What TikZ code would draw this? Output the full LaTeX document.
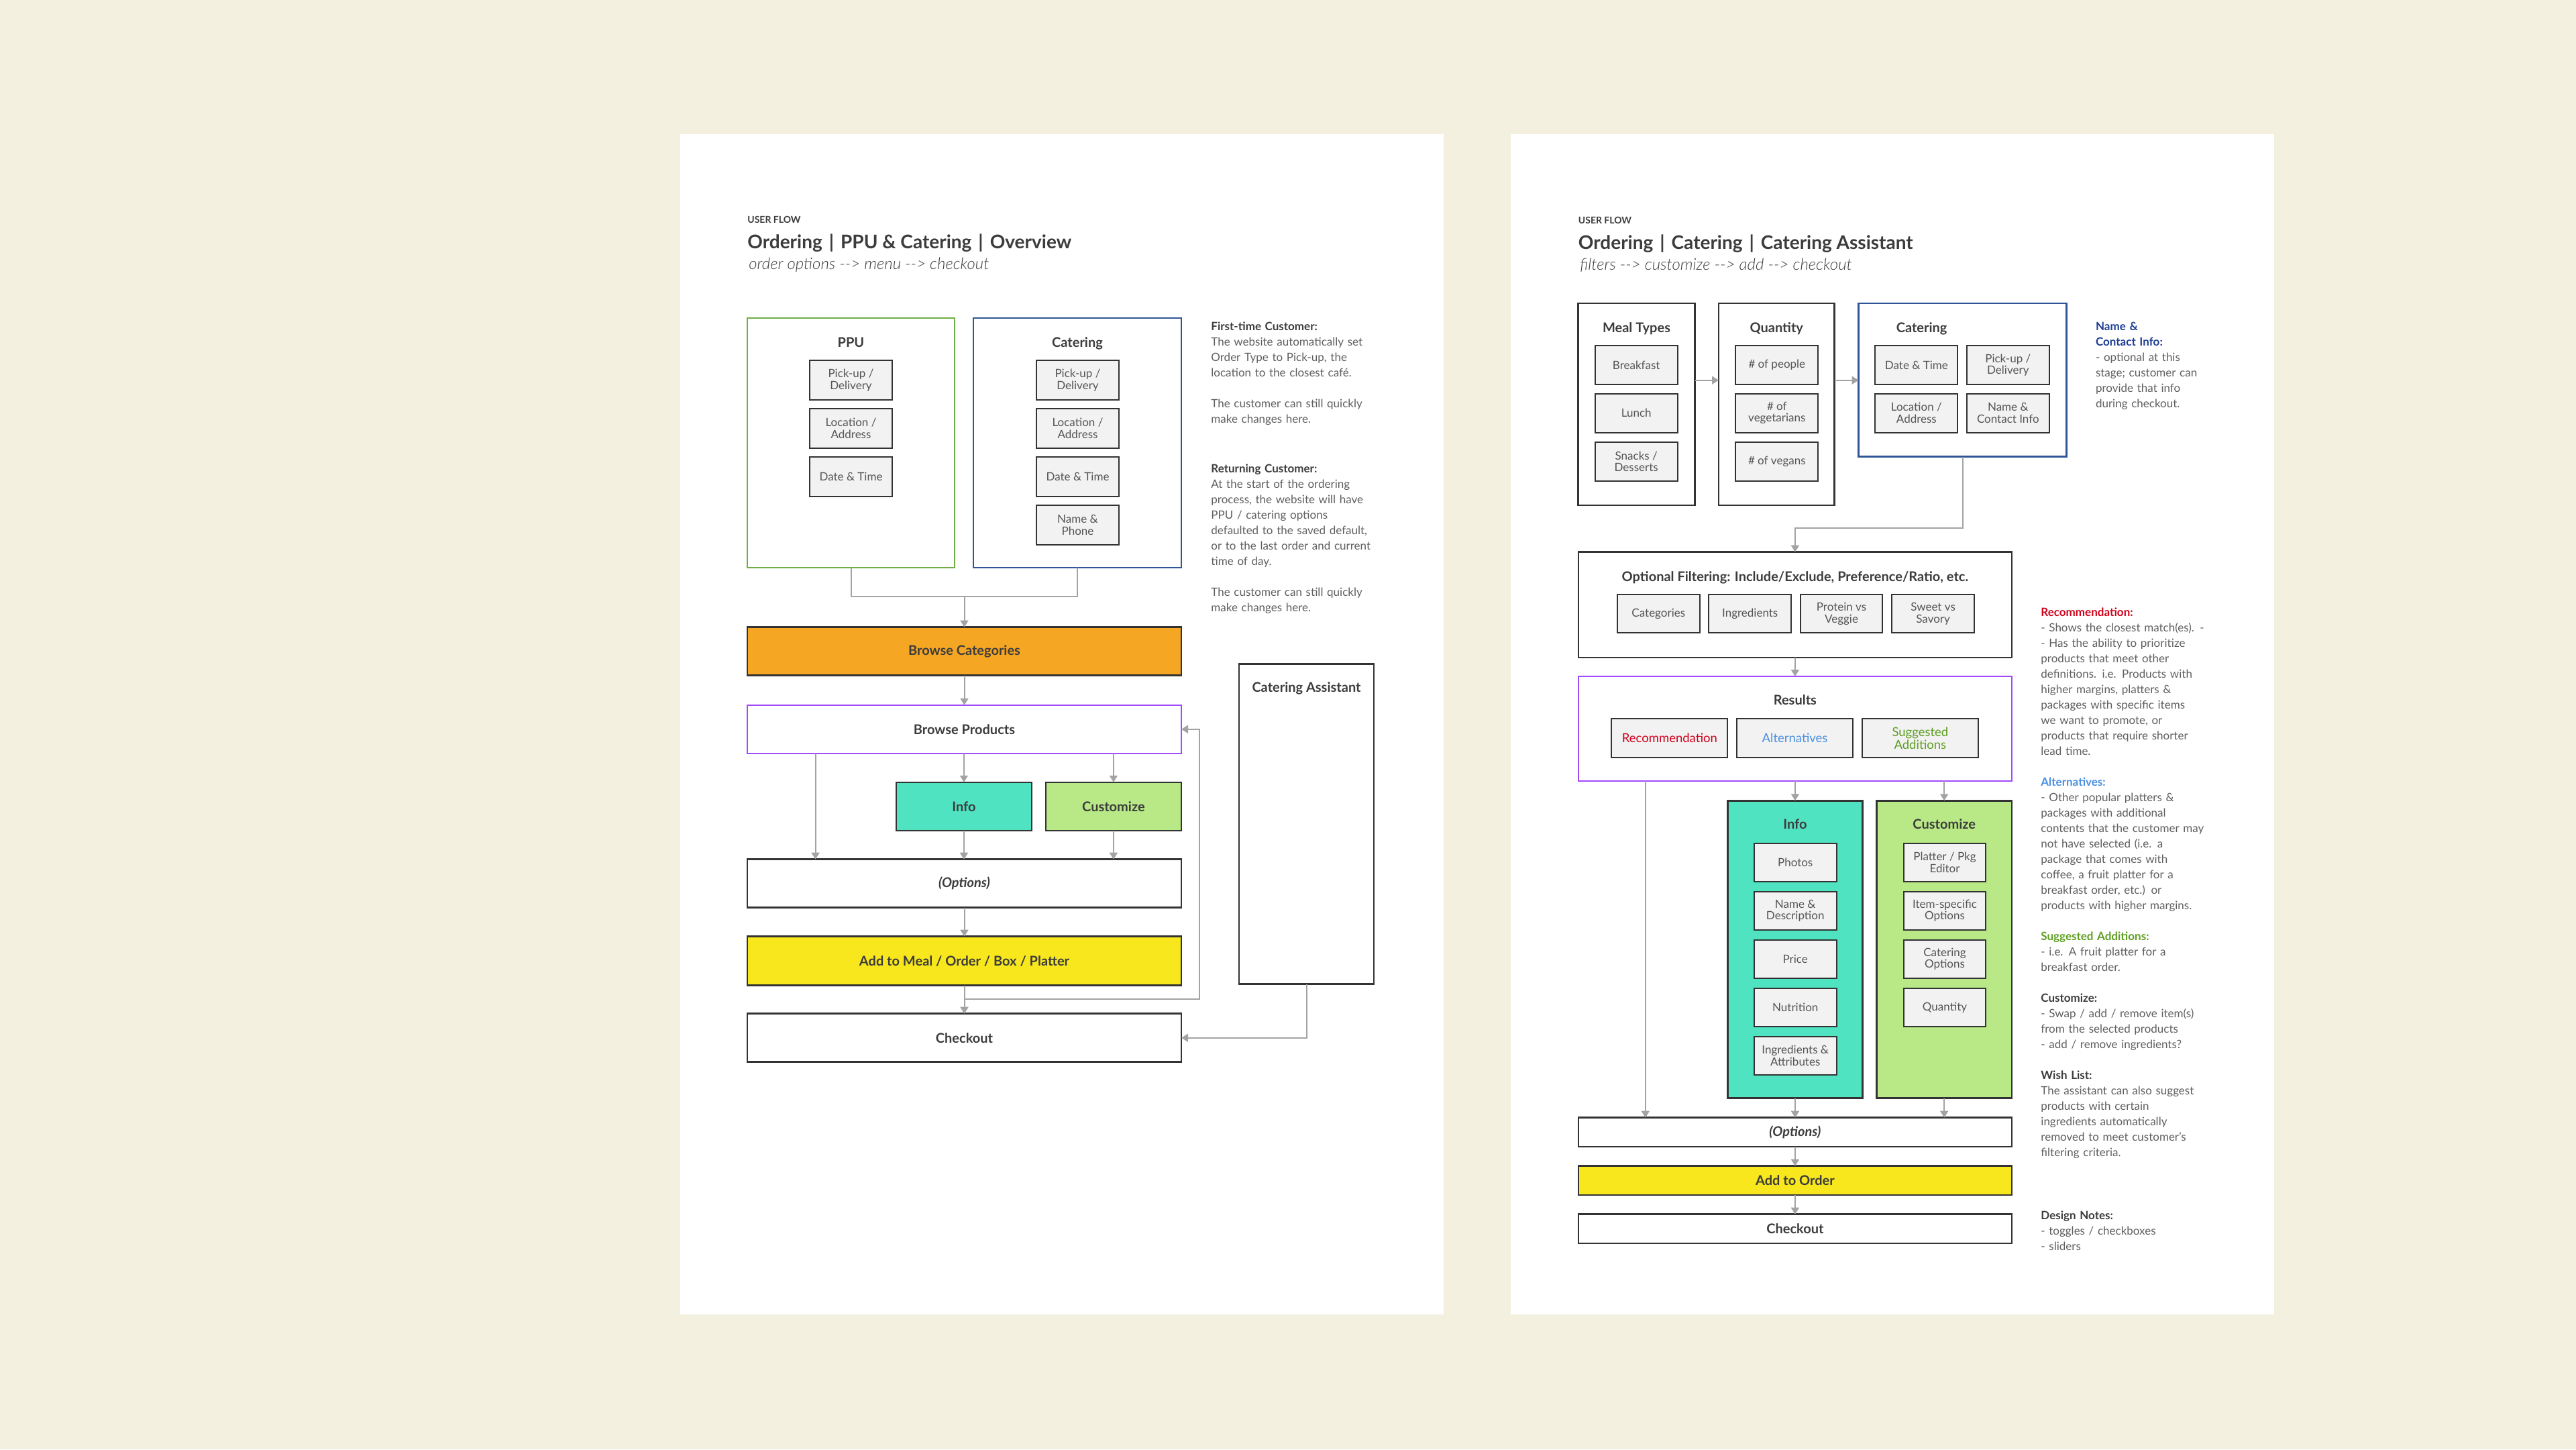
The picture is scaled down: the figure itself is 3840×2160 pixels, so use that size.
\documentclass[tikz,border=0pt]{standalone}
\usepackage{fontspec}
\setmainfont{Lato}
\newfontfamily\lightfont{Lato Light}
\usetikzlibrary{arrows.meta}
\definecolor{cBg}{HTML}{F3F0DF}
\definecolor{cBox}{HTML}{333333}
\definecolor{cLine}{HTML}{A3A3A3}
\definecolor{cInner}{HTML}{F2F2F2}
\definecolor{cOrange}{HTML}{F5A623}
\definecolor{cTeal}{HTML}{50E3C2}
\definecolor{cLime}{HTML}{B8E986}
\definecolor{cYellow}{HTML}{F8E71C}
\definecolor{cPurple}{HTML}{A24BFA}
\definecolor{cGreen}{HTML}{70AD47}
\definecolor{cBlue}{HTML}{2F5597}
\definecolor{cRed}{HTML}{D0021B}
\definecolor{cAlt}{HTML}{4A90E2}
\definecolor{cSug}{HTML}{5E9E22}
\definecolor{cNavy}{HTML}{1F3F95}
\definecolor{cTxt}{HTML}{3C3C3C}
\definecolor{cGrey}{HTML}{555555}
\definecolor{cNote}{HTML}{5F5F5F}
\newcommand\hd{\normalfont\bfseries\fontsize{8.5pt}{11.5pt}\selectfont}
\newcommand\tsep{\hspace{5pt}|\hspace{5pt}}
\begin{document}
\begin{tikzpicture}[x=0.5pt,y=-0.5pt,
  wh/.style 2 args={minimum width=#1*0.5pt, minimum height=#2*0.5pt},
  conn/.style={draw=cLine, line width=1pt},
  arr/.style={conn, -{Triangle[width=6pt,length=5pt]}},
  gbox/.style={draw, line width=1.25pt, fill=white, inner sep=0pt, outer sep=0pt},
  ibox/.style={draw=cBox, line width=1pt, fill=cInner, inner sep=0pt, outer sep=0pt, align=center, text=cGrey, font=\fontsize{8.5pt}{8.75pt}\selectfont, wh={123}{58}},
  rbox/.style={ibox, font=\fontsize{9.25pt}{9.5pt}\selectfont},
  mbox/.style={draw=cBox, line width=1.25pt, fill=white, inner sep=0pt, outer sep=0pt, text=cTxt, font=\bfseries\fontsize{10pt}{12pt}\selectfont, wh={647}{72}},
  glab/.style={anchor=base, inner sep=0pt, text=cTxt, font=\bfseries\fontsize{10pt}{12pt}\selectfont},
  mlab/.style={anchor=base, inner sep=0pt, text=cTxt, font=\bfseries\fontsize{10pt}{12pt}\selectfont},
  tag/.style={anchor=base west, inner sep=0pt, text=cTxt, font=\bfseries\fontsize{7pt}{8pt}\selectfont},
  ttl/.style={anchor=base west, inner sep=0pt, text=cTxt, font=\bfseries\fontsize{14pt}{16pt}\selectfont},
  sub/.style={anchor=base west, inner sep=0pt, text=cTxt, font=\lightfont\itshape\fontsize{12pt}{14pt}\selectfont},
  note/.style={anchor=base west, inner sep=0pt, text width=200pt, align=left, text=cNote, font=\fontsize{8.5pt}{11.5pt}\selectfont},
]
\useasboundingbox (0,0) rectangle (3840,2160);
\fill[cBg] (0,0) rectangle (3840,2160);
\fill[white] (1014,200) rectangle (2152,1959);
\fill[white] (2252,200) rectangle (3390,1959);

% ---------------- LEFT PAGE ----------------
\node[tag] (uf1) at (1114,332) {USER FLOW};
\node[ttl] (t1) at (1114,370) {Ordering\tsep PPU \& Catering\tsep Overview};
\node[sub] (s1) at (1116,401) {order options -{}-{}> menu -{}-{}> checkout};

\node[gbox, draw=cGreen, wh={309}{372}] (ppu) at (1268.5,660) {};
\node[gbox, draw=cBlue, wh={310}{372}] (catg) at (1606,660) {};
\node[glab] (ppul) at (1268.5,517) {PPU};
\node[glab] (catl) at (1606,517) {Catering};

\node[ibox, wh={123}{59}] (p1) at (1268.5,566.5) {Pick-up /\\Delivery};
\node[ibox, wh={123}{59}] (p2) at (1268.5,638.5) {Location /\\Address};
\node[ibox, wh={123}{59}] (p3) at (1268.5,710.5) {Date \& Time};
\node[ibox, wh={123}{59}] (c1) at (1606.5,566.5) {Pick-up /\\Delivery};
\node[ibox, wh={123}{59}] (c2) at (1606.5,638.5) {Location /\\Address};
\node[ibox, wh={123}{59}] (c3) at (1606.5,710.5) {Date \& Time};
\node[ibox, wh={123}{59}] (c4) at (1606.5,782.5) {Name \&\\Phone};

\node[mbox, fill=cOrange] (bc) at (1437.5,970.6) {Browse Categories};
\node[mbox, draw=cPurple] (bp) at (1437.5,1086.8) {Browse Products};
\node[mbox, fill=cTeal, wh={202}{72.3}] (inf) at (1436.9,1201.9) {Info};
\node[mbox, fill=cLime, wh={202}{72.3}] (cus) at (1659.9,1201.9) {Customize};
\node[mbox] (opt) at (1437.5,1316.7) {\itshape (Options)};
\node[mbox, fill=cYellow, wh={647}{73}] (add) at (1437.5,1432.1) {Add to Meal / Order / Box / Platter};
\node[mbox] (chk) at (1437.5,1546.7) {Checkout};
\node[mbox, wh={201}{477}] (ca) at (1947.5,1228) {};
\node[mlab] (cal) at (1947.5,1031.5) {Catering Assistant};

\coordinate (m1) at (1437.5,889);
\draw[conn] (ppu.south) |- (m1);
\draw[conn] (catg.south) |- (m1);
\draw[arr] (m1) -- (bc.north);
\draw[arr] (bc.south) -- (bp.north);
\draw[arr] (bp.south -| inf.north) -- (inf.north);
\draw[arr] (bp.south -| cus.north) -- (cus.north);
\coordinate (lx) at (1215.6,0);
\draw[arr] (bp.south -| lx) -- (opt.north -| lx);
\draw[arr] (inf.south) -- (opt.north -| inf.south);
\draw[arr] (cus.south) -- (opt.north -| cus.south);
\draw[arr] (opt.south) -- (add.north);
\draw[arr] (add.south) -- (chk.north);
\coordinate (lp1) at (1437.5,1488.6);
\coordinate (lp2) at (1788,1488.6);
\draw[arr] (lp1) -- (lp2) |- (bp.east);
\draw[arr] (ca.south) |- (chk.east);

\node[note] (na) at (1805,492) {{\hd\color{cTxt}First-time Customer:}\\The website automatically set\\Order Type to Pick-up, the\\location to the closest café.};
\node[note] (nb) at (1805,607) {The customer can still quickly\\make changes here.};
\node[note] (nc) at (1805,704) {{\hd\color{cTxt}Returning Customer:}\\At the start of the ordering\\process, the website will have\\PPU / catering options\\defaulted to the saved default,\\or to the last order and current\\time of day.};
\node[note] (nd) at (1805,888) {The customer can still quickly\\make changes here.};

% ---------------- RIGHT PAGE ----------------
\node[tag] (uf2) at (2352.5,333) {USER FLOW};
\node[ttl] (t2) at (2352.5,371) {Ordering\tsep Catering\tsep Catering Assistant};
\node[sub] (s2) at (2355,402) {filters -{}-{}> customize -{}-{}> add -{}-{}> checkout};

\node[gbox, draw=cBox, wh={174}{301}] (meal) at (2439.5,602.5) {};
\node[gbox, draw=cBox, wh={172.5}{301}] (qty) at (2648.25,602.5) {};
\node[gbox, draw=cBlue, wh={309.8}{228.7}] (cat2) at (2925.5,566.35) {};
\node[glab] (mll) at (2439.5,495) {Meal Types};
\node[glab] (qtl) at (2648.25,495) {Quantity};
\node[glab] (c2l) at (2864.6,495) {Catering};

\node[ibox] (mt1) at (2439.2,544) {Breakfast};
\node[ibox] (mt2) at (2439.2,615.5) {Lunch};
\node[ibox] (mt3) at (2439.2,688) {Snacks /\\Desserts};
\node[ibox] (q1) at (2648.8,544) {\# of people};
\node[ibox] (q2) at (2648.8,615.5) {\# of\\vegetarians};
\node[ibox] (q3) at (2648.8,688) {\# of vegans};
\node[ibox] (k1) at (2856.85,544) {Date \& Time};
\node[ibox] (k2) at (2993.3,544) {Pick-up /\\Delivery};
\node[ibox] (k3) at (2856.85,615.5) {Location /\\Address};
\node[ibox] (k4) at (2993.3,615.5) {Name \&\\Contact Info};

\coordinate (ya) at (0,566.7);
\draw[arr] (meal.east |- ya) -- (qty.west |- ya);
\draw[arr] (qty.east |- ya) -- (cat2.west |- ya);

\node[mbox, wh={646.2}{157.3}] (of) at (2675.9,901.35) {};
\node[glab] (ofl) at (2675.9,866) {Optional Filtering: Include/Exclude, Preference/Ratio, etc.};
\node[ibox, wh={122.6}{57.3}] (f1) at (2472.3,914.65) {Categories};
\node[ibox, wh={122.6}{57.3}] (f2) at (2608.7,914.65) {Ingredients};
\node[ibox, wh={122.6}{57.3}] (f3) at (2745,914.65) {Protein vs\\Veggie};
\node[ibox, wh={122.6}{57.3}] (f4) at (2881.6,914.65) {Sweet vs\\Savory};

\coordinate (m2) at (2675.9,786.7);
\draw[arr] (cat2.south) |- (m2) -- (of.north);

\node[mbox, draw=cPurple, wh={646.2}{156}] (res) at (2675.9,1086) {};
\node[glab] (resl) at (2675.9,1050) {Results};
\node[rbox, wh={173}{57.7}, text=cRed] (r1) at (2488.9,1100.15) {Recommendation};
\node[rbox, wh={173}{57.7}, text=cAlt] (r2) at (2675.55,1100.15) {Alternatives};
\node[rbox, wh={173}{57.7}, text=cSug] (r3) at (2862.35,1100.15) {Suggested\\Additions};

\node[mbox, fill=cTeal, wh={200.9}{443.3}] (inf2) at (2675.95,1414.95) {};
\node[mlab] (inf2l) at (2675.95,1235.6) {Info};
\node[mbox, fill=cLime, wh={201.6}{443.3}] (cus2) at (2898.2,1414.95) {};
\node[mlab] (cus2l) at (2898.2,1235.6) {Customize};

\node[ibox, wh={122.8}{57.5}] (i1) at (2676.2,1285.3) {Photos};
\node[ibox, wh={122.8}{57.5}] (i2) at (2676.2,1357.3) {Name \&\\Description};
\node[ibox, wh={122.8}{57.5}] (i3) at (2676.2,1429.3) {Price};
\node[ibox, wh={122.8}{57.5}] (i4) at (2676.2,1501.3) {Nutrition};
\node[ibox, wh={122.8}{57.5}] (i5) at (2676.2,1573.3) {Ingredients \&\\Attributes};
\node[ibox, wh={122.8}{57.5}] (u1) at (2899,1285.3) {Platter / Pkg\\Editor};
\node[ibox, wh={122.8}{57.5}] (u2) at (2899,1357.3) {Item-specific\\Options};
\node[ibox, wh={122.8}{57.5}] (u3) at (2899,1429.3) {Catering\\Options};
\node[ibox, wh={122.8}{57.5}] (u4) at (2899,1501.3) {Quantity};

\node[mbox, wh={646.2}{43.3}] (opt2) at (2675.9,1687.35) {\itshape (Options)};
\node[mbox, fill=cYellow, wh={646.2}{43.3}] (add2) at (2675.9,1759.35) {Add to Order};
\node[mbox, wh={646.2}{43.3}] (chk2) at (2675.9,1831.35) {Checkout};

\draw[arr] (of.south) -- (res.north);
\draw[arr] (res.south -| inf2.north) -- (inf2.north);
\draw[arr] (res.south -| cus2.north) -- (cus2.north);
\coordinate (lx2) at (2452.8,0);
\draw[arr] (res.south -| lx2) -- (opt2.north -| lx2);
\draw[arr] (inf2.south) -- (opt2.north -| inf2.south);
\draw[arr] (cus2.south) -- (opt2.north -| cus2.south);
\draw[arr] (opt2.south) -- (add2.north);
\draw[arr] (add2.south) -- (chk2.north);

\node[note] (nn) at (3123.6,492) {{\hd\color{cNavy}Name \&}\\{\hd\color{cNavy}Contact Info:}\\- optional at this\\stage; customer can\\provide that info\\during checkout.};

\node[note] (n1) at (3042,918) {{\hd\color{cRed}Recommendation:}\\- Shows the closest match(es). -\\- Has the ability to prioritize\\products that meet other\\definitions. i.e. Products with\\higher margins, platters \&\\packages with specific items\\we want to promote, or\\products that require shorter\\lead time.};
\node[note] (n2) at (3042,1171) {{\hd\color{cAlt}Alternatives:}\\- Other popular platters \&\\packages with additional\\contents that the customer may\\not have selected (i.e. a\\package that comes with\\coffee, a fruit platter for a\\breakfast order, etc.) or\\products with higher margins.};
\node[note] (n3) at (3042,1401) {{\hd\color{cSug}Suggested Additions:}\\- i.e. A fruit platter for a\\breakfast order.};
\node[note] (n4) at (3042,1493) {{\hd\color{cTxt}Customize:}\\- Swap / add / remove item(s)\\from the selected products\\- add / remove ingredients?};
\node[note] (n5) at (3042,1608) {{\hd\color{cTxt}Wish List:}\\The assistant can also suggest\\products with certain\\ingredients automatically\\removed to meet customer's\\filtering criteria.};
\node[note] (n6) at (3042,1817) {{\hd\color{cTxt}Design Notes:}\\- toggles / checkboxes\\- sliders};
\end{tikzpicture}
\end{document}
